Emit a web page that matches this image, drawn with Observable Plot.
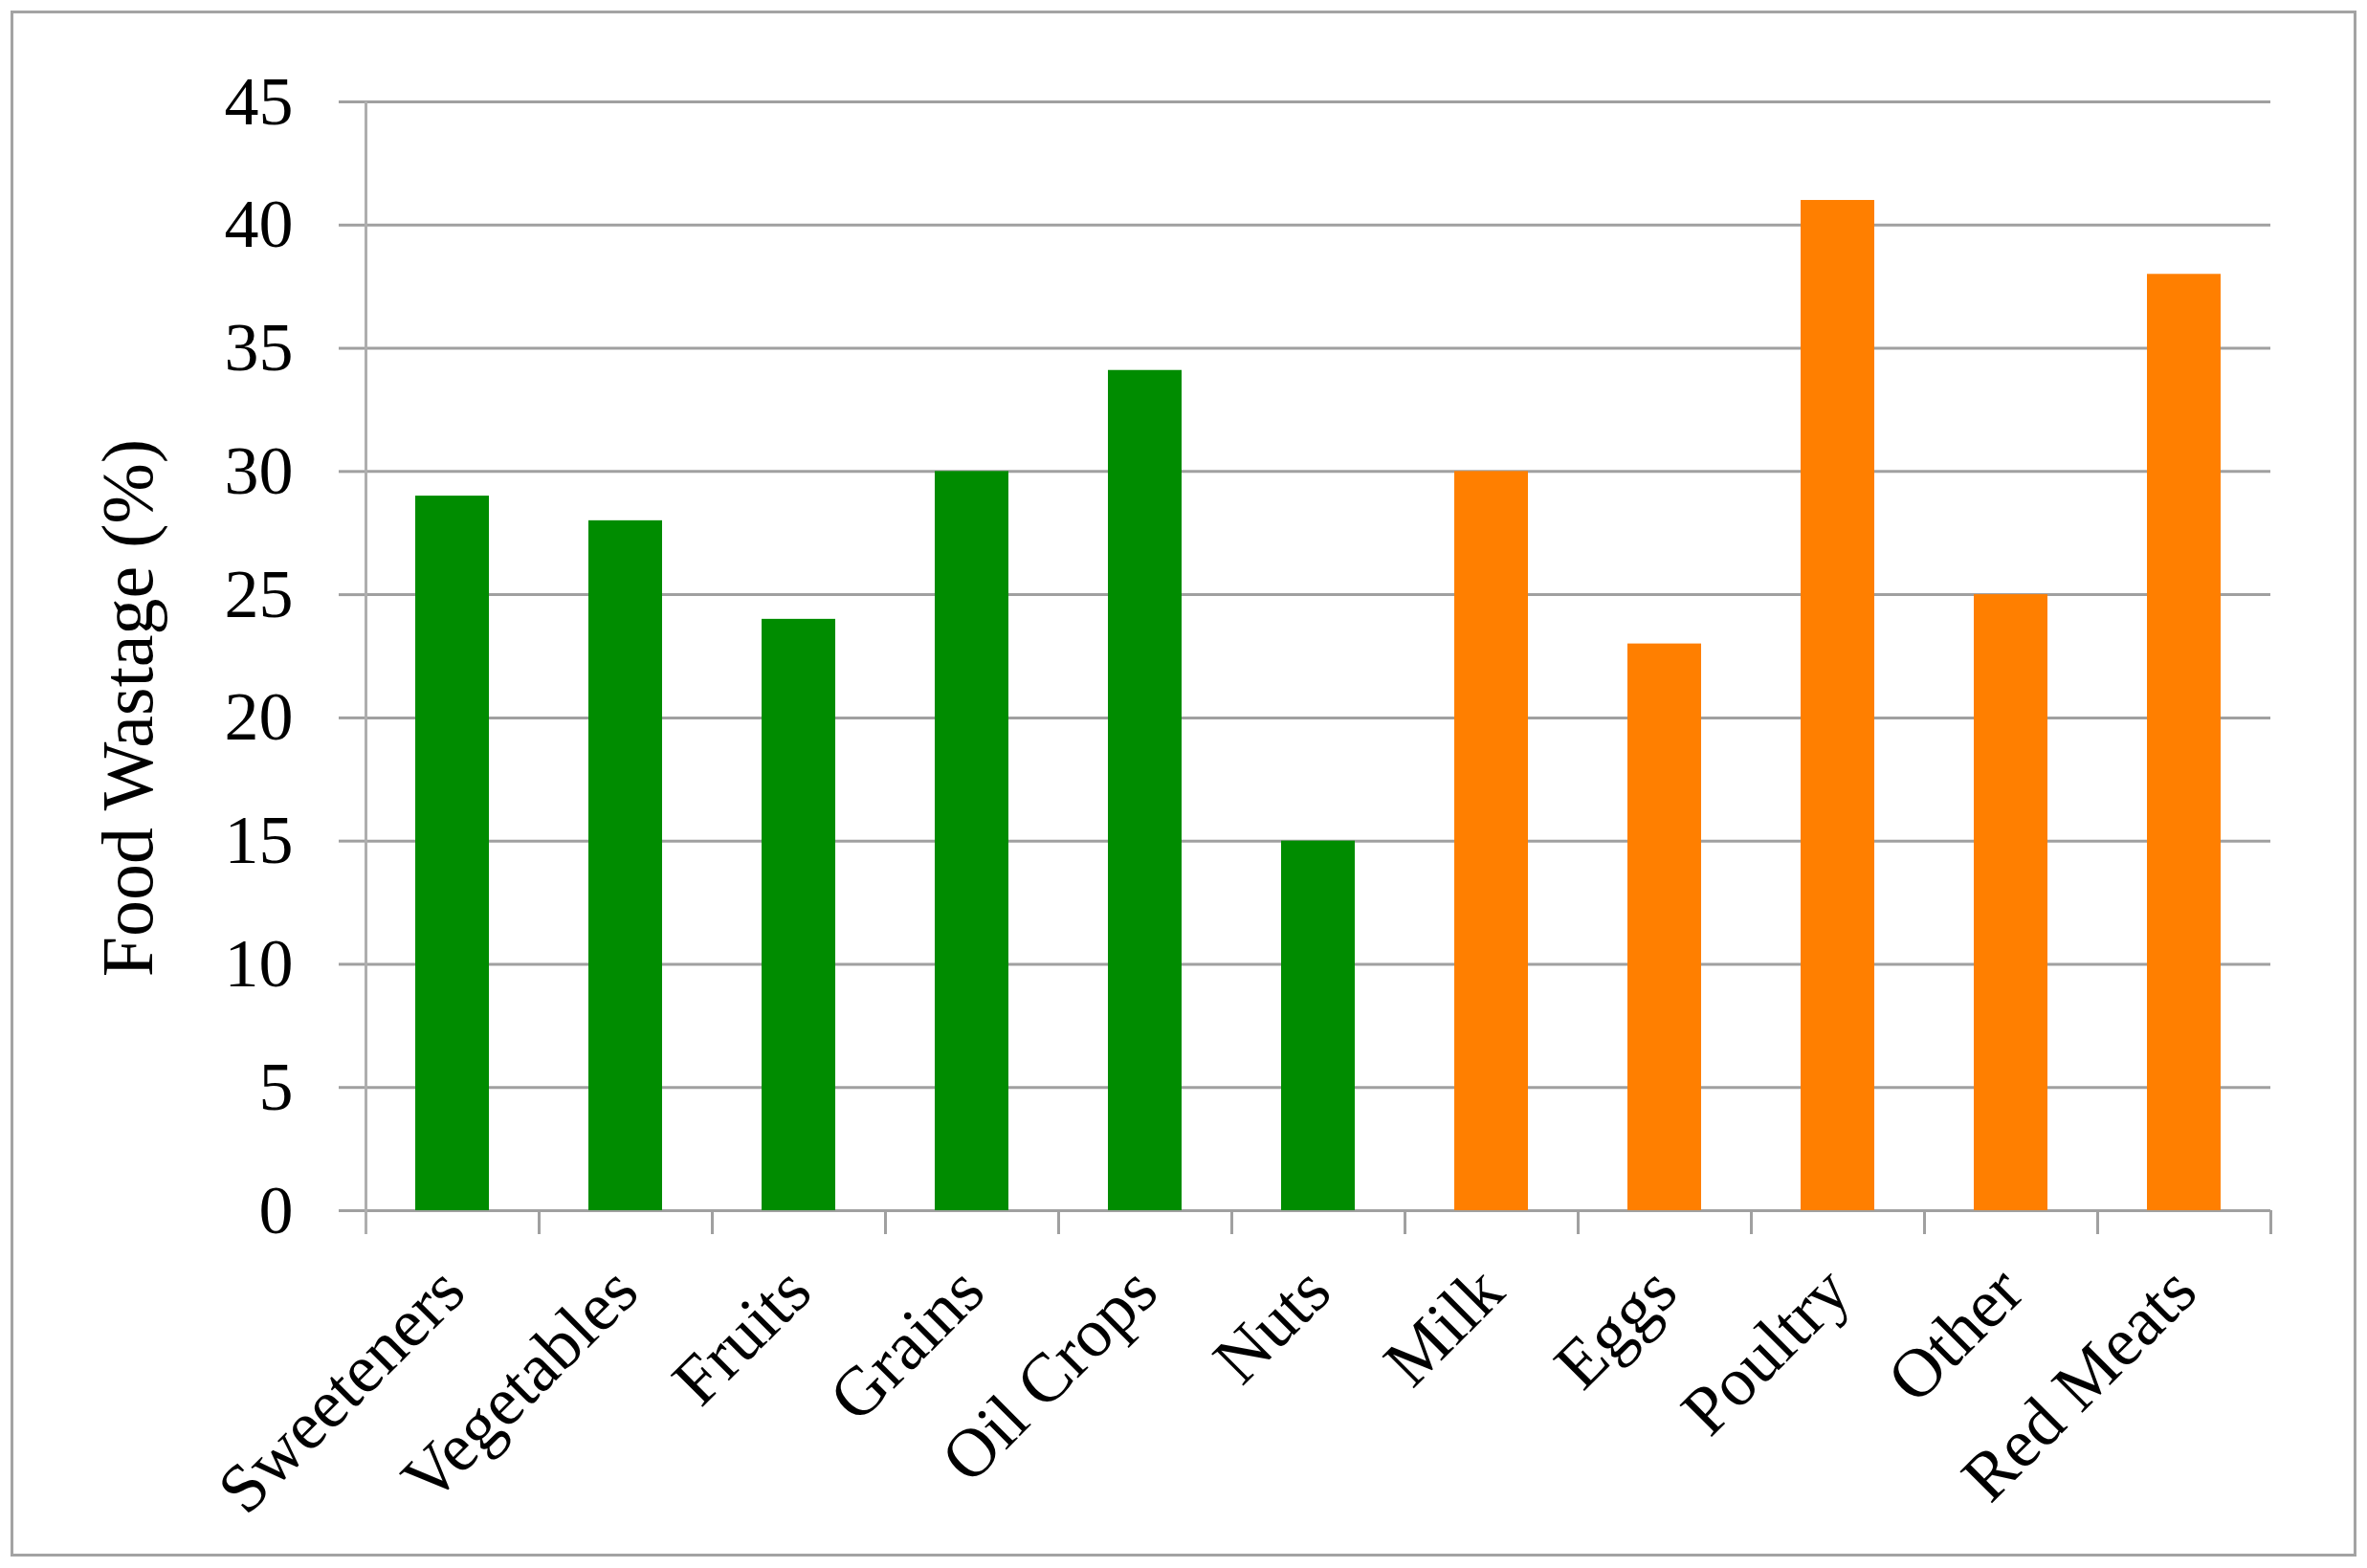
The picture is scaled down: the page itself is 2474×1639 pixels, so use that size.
<!DOCTYPE html>
<html>
<head>
<meta charset="utf-8">
<script src="https://cdn.jsdelivr.net/npm/d3@7"></script>
<script src="https://cdn.jsdelivr.net/npm/@observablehq/plot@0.6"></script>
<style>
  html, body { margin: 0; padding: 0; background: #fff; }
  #wrap { position: relative; width: 2474px; height: 1639px; }
  #frame { position: absolute; left: 11px; top: 11px; width: 2446px; height: 1610px; border: 3px solid #a3a3a3; pointer-events: none; }
  #chart svg { display: block; }
</style>
</head>
<body>
<div id="wrap"><div id="chart"></div><div id="frame"></div></div>
<script>
const categories = ["Sweeteners", "Vegetables", "Fruits", "Grains", "Oil Crops", "Nuts", "Milk", "Eggs", "Poultry", "Other", "Red Meats"];
const wastage = [29, 28, 24, 30, 34.1, 15, 30, 23, 41, 25, 38];
const groups = ["Plant", "Plant", "Plant", "Plant", "Plant", "Plant", "Animal", "Animal", "Animal", "Animal", "Animal"];
const groupNames = ["Plant", "Animal"];
const groupColors = ["#008c00", "#ff7f00"];
const yTicks = [0, 5, 10, 15, 20, 25, 30, 35, 40, 45];
const yLabel = "Food Wastage (%)";

const data = categories.map((c, i) => ({category: c, value: wastage[i], group: groups[i]}));

const W = 2474, H = 1639;
const mL = 382, mR = 101, mT = 106, mB = 374;
const bw = (W - mL - mR) / categories.length;
const gray = "#a0a0a0";

const chart = Plot.plot({
  width: W,
  height: H,
  marginLeft: mL,
  marginRight: mR,
  marginTop: mT,
  marginBottom: mB,
  style: {fontFamily: "'Liberation Serif', serif", fontSize: "72px", color: "#000", background: "#fff"},
  x: {domain: categories, paddingInner: 0.575, paddingOuter: 0.2875, align: 0.5},
  y: {domain: [0, 45]},
  color: {domain: groupNames, range: groupColors},
  marks: [
    Plot.gridY(yTicks, {stroke: gray, strokeOpacity: 1, strokeWidth: 3}),
    Plot.barY(data, {x: "category", y: "value", fill: "group"}),
    Plot.axisY({ticks: yTicks, tickSize: 28, tickPadding: 48, stroke: gray, strokeWidth: 3, fill: "#000", label: null}),
    // vertical axis line at left edge of the first band
    Plot.ruleX([categories[0]], {dx: -bw / 2, stroke: "#aeaeae", strokeWidth: 3, insetBottom: -25}),
    // boundary ticks under the baseline
    Plot.ruleX(categories.slice(1), {y1: 0, y2: 0, dx: -bw / 2, stroke: gray, strokeWidth: 3, insetBottom: -25}),
    Plot.ruleX([categories[categories.length - 1]], {y1: 0, y2: 0, dx: bw / 2, stroke: gray, strokeWidth: 3, insetBottom: -25}),
    Plot.axisX({tickSize: 0, tickRotate: -45, tickPadding: 72, fill: "#000", label: null}),
    Plot.text([yLabel], {frameAnchor: "left", textAnchor: "middle", lineAnchor: "middle", rotate: -90, dx: -248, dy: 54, fontSize: 76, fill: "#000"})
  ]
});
document.getElementById("chart").appendChild(chart);
</script>
</body>
</html>
